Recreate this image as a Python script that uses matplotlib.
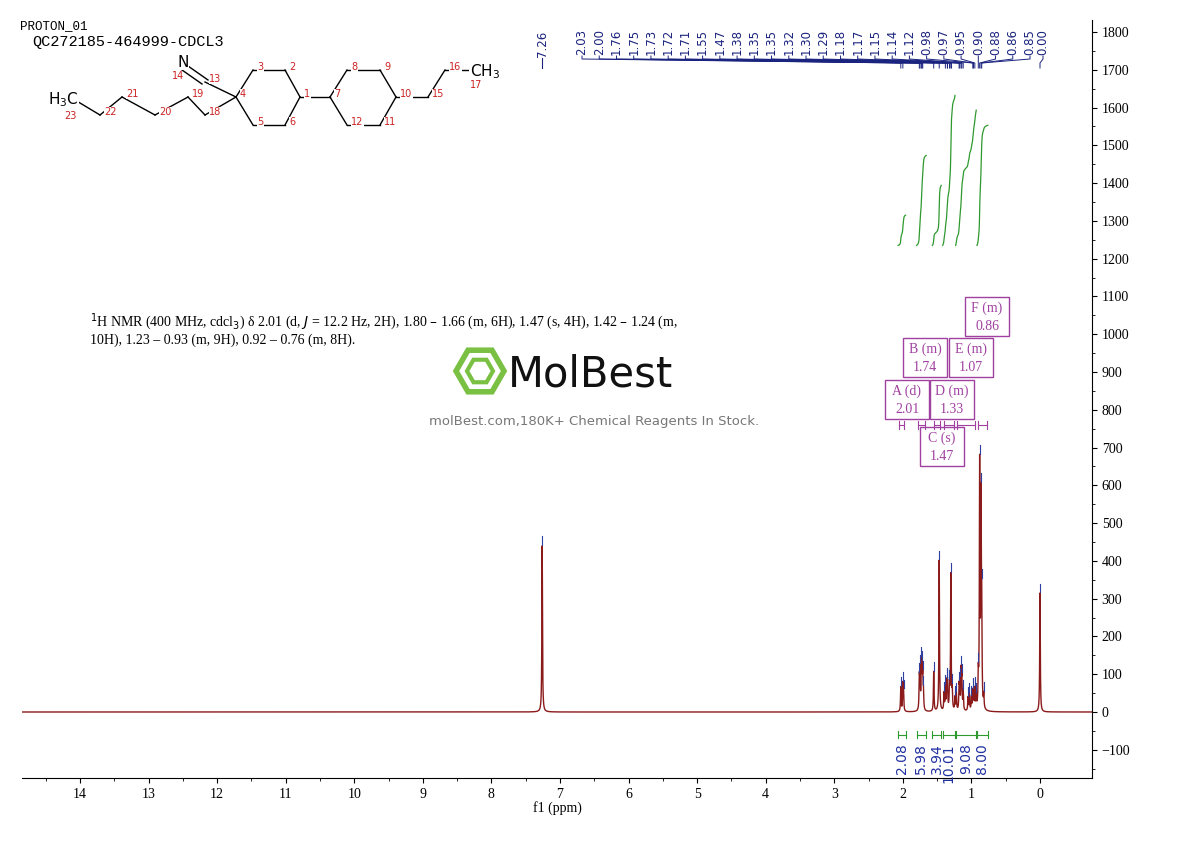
import numpy as np
import matplotlib
matplotlib.use("Agg")
import matplotlib.pyplot as plt
from matplotlib.patches import RegularPolygon

# ---- data ----
peak_ppm = [7.26, 2.03, 2.00, 1.99, 1.76, 1.75, 1.73, 1.72, 1.71, 1.70, 1.55, 1.47,
            1.40, 1.38, 1.36, 1.35, 1.32, 1.30, 1.28, 1.24, 1.22, 1.18, 1.17, 1.15,
            1.14, 1.12, 1.05, 1.03, 1.00, 0.98, 0.97, 0.95, 0.93, 0.90, 0.88, 0.86,
            0.85, 0.82, 0.00]
peak_h = [440, 65, 70, 45, 80, 100, 115, 90, 75, 45, 105, 400,
          45, 60, 65, 70, 60, 360, 50, 35, 45, 60, 70, 100,
          75, 50, 35, 45, 35, 45, 45, 55, 35, 80, 640, 520,
          230, 35, 315]
pick_labels = ["2.03", "2.00", "1.76", "1.75", "1.73", "1.72", "1.71", "1.55", "1.47",
               "1.38", "1.35", "1.35", "1.32", "1.30", "1.29", "1.18", "1.17", "1.15",
               "1.14", "1.12", "0.98", "0.97", "0.95", "0.90", "0.88", "0.86", "0.85", "0.00"]
int_ranges = [(2.07, 1.96), (1.80, 1.66), (1.57, 1.44), (1.42, 1.24), (1.23, 0.93), (0.92, 0.76)]
int_values = ["2.08", "5.98", "3.94", "10.01", "9.08", "8.00"]
int_curve_y = [(1235, 1315), (1235, 1473), (1235, 1394), (1235, 1632), (1235, 1593), (1235, 1553)]
mult_names = ["A (d)", "B (m)", "C (s)", "D (m)", "E (m)", "F (m)"]
mult_shift = ["2.01", "1.74", "1.47", "1.33", "1.07", "0.86"]
mult_box_px = [(885, 380), (903, 338), (920, 427), (930, 380), (949, 338), (965, 297)]
yticks = list(range(-100, 1801, 100))
xticks = list(range(0, 15))

W, H = 1190, 841
fig = plt.figure(figsize=(W/100, H/100), dpi=100)
L, R, T, B = 22, 1092, 20, 778
ax = fig.add_axes([L/W, (H-B)/H, (R-L)/W, (B-T)/H])
x_left = 14 + (80 - L)/68.571
x_right = -(R - 1040)/68.571
ax.set_xlim(x_left, x_right)
ax.set_ylim(-(B-712)/0.3778, (712-T)/0.3778)

x = np.linspace(x_left, x_right, 30000)
y = np.zeros_like(x)
hw = 0.005
for p, h in zip(peak_ppm, peak_h):
    y += h * hw**2 / ((x-p)**2 + hw**2)
ax.plot(x, y, color="#8b1a1a", lw=1.0)
for p, h in zip(peak_ppm, peak_h):
    i = np.argmin(abs(x-p))
    ax.plot([p, p], [y[i]+2, y[i]+25], color="#3040a0", lw=0.8)

for (a, b), (y0, y1) in zip(int_ranges, int_curve_y):
    m = (x <= a) & (x >= b)
    c = np.cumsum(y[m]); c = (c - c[0])/(c[-1]-c[0])
    ax.plot(x[m], y0 + c*(y1-y0), color="#2e9a2e", lw=0.9)
    ax.plot([a, b], [-60, -60], color="#2e9a2e", lw=0.8)
    for e in (a, b):
        ax.plot([e, e], [-50, -70], color="#2e9a2e", lw=0.8)

for (a, b) in int_ranges:
    a2, b2 = a-0.02, b+0.02
    ax.plot([a2, b2], [760, 760], color="#a040a0", lw=0.8)
    for e in (a2, b2):
        ax.plot([e, e], [750, 770], color="#a040a0", lw=0.8)
for (a, b), v in zip(int_ranges, int_values):
    ax.text((a+b)/2, -82, v, rotation=90, ha="center", va="top", color="#2030a0", fontsize=10)

ax.spines["left"].set_visible(False)
ax.spines["top"].set_visible(False)
ax.yaxis.tick_right()
ax.set_yticks(yticks)
ax.set_yticks(np.arange(-150, 1801, 50), minor=True)
ax.set_xticks(xticks)
ax.set_xticks(np.arange(0, 14.6, 0.5), minor=True)
ax.tick_params(axis="both", direction="out", labelsize=10, labelfontfamily="Liberation Serif")
ax.tick_params(axis="y", which="both", right=True)
ax.set_xlabel("f1 (ppm)", fontsize=10, family="Liberation Serif", labelpad=0)

ov = fig.add_axes([0, 0, 1, 1]); ov.set_xlim(0, W); ov.set_ylim(H, 0); ov.axis("off")
def px(ppm): return 1040 - ppm*68.571
ov.text(px(7.26), 44, "7.26", rotation=90, ha="center", va="center", fontsize=8.5, color="#1a237e")
ov.plot([px(7.26)]*2, [58, 68], color="#1a237e", lw=0.8)
n = len(pick_labels)
for k, lab in enumerate(pick_labels):
    lx = 582 + k*(1030-582)/(n-2) if k < n-1 else 1043
    ppm = float(lab)
    ov.text(lx, 42, lab, rotation=90, ha="center", va="center", fontsize=8.5, color="#1a237e")
    ov.plot([lx, lx, px(ppm), px(ppm)], [56, 59, 63, 68], color="#1a237e", lw=0.7)
for (bx, by), nm, sh in zip(mult_box_px, mult_names, mult_shift):
    ov.add_patch(plt.Rectangle((bx, by), 44, 39, fill=False, ec="#a040a0", lw=1))
    ov.text(bx+22, by+11, nm, ha="center", va="center", fontsize=10, color="#a040a0", family="Liberation Serif")
    ov.text(bx+22, by+29, sh, ha="center", va="center", fontsize=10, color="#a040a0", family="Liberation Serif")

ov.text(20, 26, "PROTON_01", fontsize=9, family="Liberation Mono", va="center")
ov.text(32, 42, "QC272185-464999-CDCL3", fontsize=11, family="Liberation Mono", va="center")
ov.text(90, 322, "$^{1}$H NMR (400 MHz, cdcl$_3$) δ 2.01 (d, $J$ = 12.2 Hz, 2H), 1.80 – 1.66 (m, 6H), 1.47 (s, 4H), 1.42 – 1.24 (m,",
        fontsize=10, family="Liberation Serif", va="center")
ov.text(90, 340, "10H), 1.23 – 0.93 (m, 9H), 0.92 – 0.76 (m, 8H).", fontsize=10, family="Liberation Serif", va="center")
ov.add_patch(RegularPolygon((480, 371), 6, radius=24, orientation=np.pi/2, fill=False, ec="#7ac143", lw=4))
ov.add_patch(RegularPolygon((480, 371), 6, radius=13, orientation=np.pi/2, fill=False, ec="#7ac143", lw=3))
ov.text(508, 374, "MolBest", fontsize=30, family="Liberation Sans Narrow", va="center", color="#111111")
ov.text(594, 421, "molBest.com,180K+ Chemical Reagents In Stock.", fontsize=9.5, ha="center", va="center", color="#777777")

P = {4: (236, 97), 3: (253, 70), 2: (285, 70), 1: (300, 97), 6: (285, 125), 5: (253, 125),
     7: (330, 97), 8: (347, 70), 9: (380, 70), 10: (396, 97), 11: (380, 125), 12: (347, 125),
     15: (428, 97), 16: (445, 70), 17: (470, 70), 13: (205, 82), 14: (185, 66),
     18: (205, 115), 19: (188, 97), 20: (155, 115), 21: (122, 97), 22: (100, 115), 23: (75, 100)}
bonds = [(4, 3), (3, 2), (2, 1), (1, 6), (6, 5), (5, 4), (1, 7), (7, 8), (8, 9), (9, 10), (10, 11),
         (11, 12), (12, 7), (10, 15), (15, 16), (16, 17), (4, 13), (4, 18), (18, 19), (19, 20),
         (20, 21), (21, 22), (22, 23)]
for a, b in bonds:
    ov.plot([P[a][0], P[b][0]], [P[a][1], P[b][1]], color="black", lw=1)
ov.plot([P[13][0]-3, P[14][0]-3], [P[13][1]+2, P[14][1]+4], color="black", lw=1)
ov.plot([P[13][0]+3, P[14][0]+3], [P[13][1]-2, P[14][1]], color="black", lw=1)
for k, (cx, cy) in P.items():
    if k in (14, 17, 23):
        continue
    ov.text(cx+4, cy-3, str(k), fontsize=7, color="#cc2222", ha="left", va="center",
            bbox=dict(fc="white", ec="none", pad=0.3))
ov.text(183, 62, "N", fontsize=11, ha="center", va="center", bbox=dict(fc="white", ec="none", pad=0.5))
ov.text(178, 76, "14", fontsize=7, color="#cc2222", ha="center", va="center")
ov.text(470, 72, "CH$_3$", fontsize=11, ha="left", va="center", bbox=dict(fc="white", ec="none", pad=0.5))
ov.text(476, 85, "17", fontsize=7, color="#cc2222", ha="center", va="center")
ov.text(48, 100, "H$_3$C", fontsize=11, ha="left", va="center", bbox=dict(fc="white", ec="none", pad=0.5))
ov.text(70, 116, "23", fontsize=7, color="#cc2222", ha="center", va="center")

fig.savefig("out.png", dpi=100)
